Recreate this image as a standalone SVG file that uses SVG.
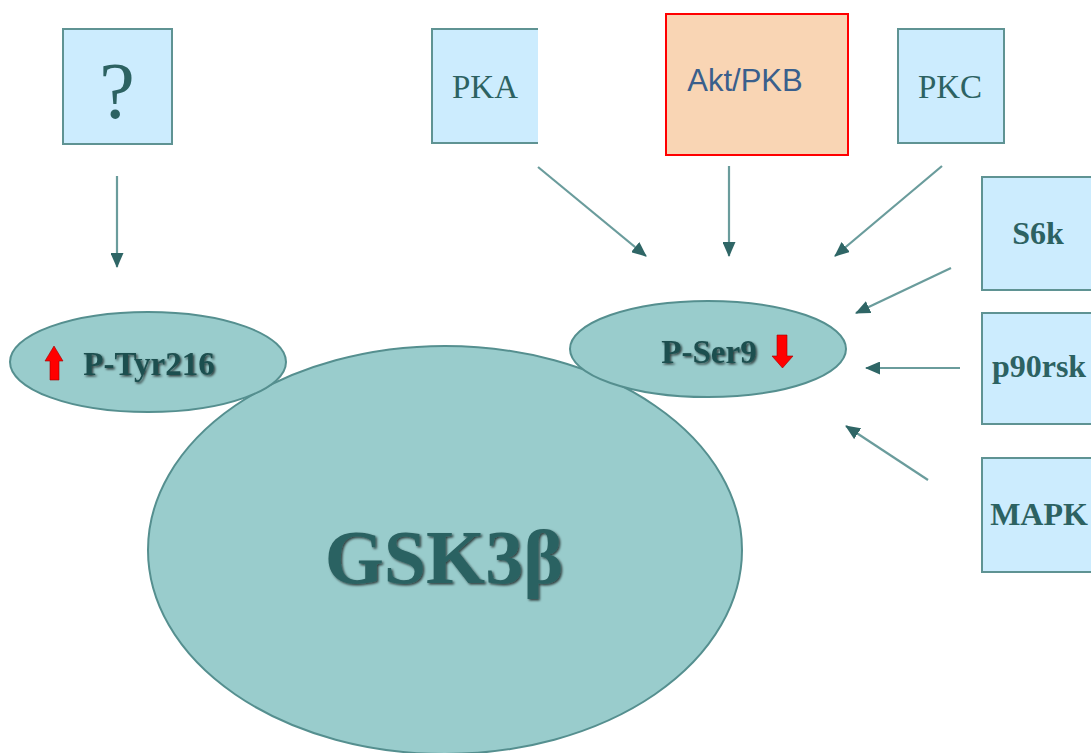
<svg xmlns="http://www.w3.org/2000/svg" width="1091" height="753" viewBox="0 0 1091 753">
<style>
.box{fill:#ccecfe;stroke:#5f9393;stroke-width:2}
.ell{fill:#99cccc;stroke:#558f8f;stroke-width:2}
.lbl{font-family:"Liberation Serif","Times New Roman",serif;fill:#2c6262;text-anchor:middle}
.b{font-weight:bold}
.dk{fill:#1f4f4f}
.con{stroke:#6a9c9c;stroke-width:2.2;fill:none;marker-end:url(#ah)}
.red{fill:#ff0000;stroke:#a00000;stroke-width:0.6}
</style>
<defs>
<marker id="ah" markerUnits="userSpaceOnUse" markerWidth="15" markerHeight="13" refX="14" refY="6.5" orient="auto">
<path d="M0,0 L15,6.5 L0,13 z" fill="#2f6666"/>
</marker>
<filter id="sh" x="-10%" y="-10%" width="120%" height="130%">
<feDropShadow dx="1.5" dy="1.5" stdDeviation="0.8" flood-color="#000" flood-opacity="0.7"/>
</filter>
</defs>

<g id="gsk3b">
<ellipse class="ell" cx="445" cy="550" rx="297" ry="204"/>
<text class="lbl b" x="444" y="583" font-size="76" fill="#2e6464" filter="url(#sh)">GSK3β</text>
</g>

<g id="ptyr216">
<ellipse class="ell" cx="148" cy="362" rx="138" ry="50"/>
<polygon class="red" points="54,346 63,361 59,361 59,380 50,380 50,361 45,361"/>
<text class="lbl b dk" x="149" y="375" font-size="33" filter="url(#sh)">P-Tyr216</text>
</g>

<g id="pser9">
<ellipse class="ell" cx="708" cy="349" rx="138" ry="48"/>
<text class="lbl b dk" x="709" y="363" font-size="33" filter="url(#sh)">P-Ser9</text>
<polygon class="red" points="777,335 787,335 787,356 793,356 782.5,368 772,356 777,356"/>
</g>

<g id="unknown">
<rect class="box" x="63" y="29" width="109" height="115"/>
<text class="lbl" x="117" y="118" font-size="80">?</text>
</g>

<g id="pka">
<rect x="432" y="29" width="106" height="114" fill="#ccecfe"/>
<path d="M538,29 H432 V143 H538" fill="none" stroke="#5f9393" stroke-width="2"/>
<text class="lbl" x="485" y="98" font-size="33">PKA</text>
</g>

<g id="akt">
<rect x="666" y="14" width="182" height="141" fill="#f9d5b4" stroke="#ff0000" stroke-width="2"/>
<text x="745" y="91" font-family="Liberation Sans, Arial, sans-serif" font-size="31" fill="#3a5f8c" text-anchor="middle">Akt/PKB</text>
</g>

<g id="pkc">
<rect class="box" x="898" y="29" width="106" height="114"/>
<text class="lbl" x="950" y="98" font-size="33">PKC</text>
</g>

<g id="s6k">
<rect class="box" x="982" y="177" width="115" height="113"/>
<text class="lbl b" x="1038" y="244" font-size="32">S6k</text>
</g>

<g id="p90rsk">
<rect class="box" x="982" y="313" width="115" height="111"/>
<text class="lbl b" x="1039" y="377" font-size="32">p90rsk</text>
</g>

<g id="mapk">
<rect class="box" x="982" y="458" width="115" height="114"/>
<text class="lbl b" x="1039" y="525" font-size="32">MAPK</text>
</g>

<g id="connectors">
<line class="con" x1="117" y1="176" x2="117" y2="267"/>
<line class="con" x1="538" y1="167" x2="646" y2="256"/>
<line class="con" x1="729" y1="166" x2="729" y2="256"/>
<line class="con" x1="942" y1="166" x2="835" y2="256"/>
<line class="con" x1="951" y1="268" x2="856" y2="313"/>
<line class="con" x1="960" y1="368" x2="866" y2="368" stroke="#4f8585" stroke-width="3"/>
<line class="con" x1="928" y1="480" x2="846" y2="426"/>
</g>
</svg>
